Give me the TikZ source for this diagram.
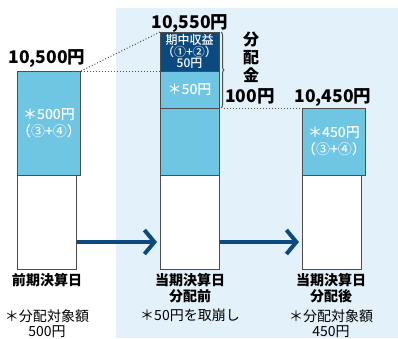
\documentclass[tikz,border=0pt]{standalone}
\usepackage{fontspec}
\setmainfont{Noto Sans CJK JP}
\newfontfamily\jpmedium{Noto Sans CJK JP Medium}
\usetikzlibrary{positioning,arrows.meta,decorations.pathreplacing}

\definecolor{bgblue}{HTML}{E3F2FA}
\definecolor{barblue}{HTML}{6EC6E3}
\definecolor{darkblue}{HTML}{0B4A80}
\definecolor{barline}{HTML}{4D4D4D}

\begin{document}
\begin{tikzpicture}[x=1pt,y=-1pt,
    bar/.style={draw=barline, line width=1pt, inner sep=0pt, outer sep=0pt,
      minimum width=59pt, anchor=north west, text=white, align=center,
      font=\jpmedium\fontsize{14}{17}\selectfont},
    amount/.style={font=\bfseries\fontsize{17.5}{17}\selectfont, inner sep=0pt, anchor=base},
    daylabel/.style={font=\bfseries\fontsize{14}{16}\selectfont, inner sep=0pt, anchor=north, align=center},
    notelabel/.style={font=\fontsize{14}{15}\selectfont, inner sep=0pt, anchor=north, align=center},
    dotline/.style={draw=barline, line width=1pt, dotted},
    flow/.style={draw=darkblue, line width=4pt, -{Straight Barb[length=10pt,width=24pt]}}]

  \useasboundingbox (0,0) rectangle (398,338);
  \fill[bgblue] (116,8) rectangle (398,338);

  % bars
  \node[bar, fill=barblue, minimum height=104pt] (leftblue)  at (17,71)  {＊500円\\（③+④）};
  \node[bar, fill=white,   minimum height=94pt]  (leftwhite) at (17,175) {};

  \node[bar, fill=darkblue, minimum height=39pt, font=\jpmedium\fontsize{12}{11}\selectfont]
    (midincome) at (160,32) {期中収益\\（①+②）\\50円};
  \node[bar, fill=barblue, minimum height=37pt] (midfifty) at (160,71)  {＊50円};
  \node[bar, fill=barblue, minimum height=67pt] (midblue)  at (160,108) {};
  \node[bar, fill=white,   minimum height=94pt] (midwhite) at (160,175) {};

  \node[bar, fill=barblue, minimum height=67pt] (rightblue)  at (302,108) {＊450円\\（③+④）};
  \node[bar, fill=white,   minimum height=94pt] (rightwhite) at (302,175) {};

  % amounts
  \node[amount] (leftsum)  at (47,63)  {10,500円};
  \node[amount] (midsum)   at (190,28) {10,550円};
  \node[amount] (rightsum) at (333,102) {10,450円};
  \node[amount] (payout)   at (250,102) {100円};
  \node[font=\bfseries\fontsize{16}{18}\selectfont, inner sep=0pt, anchor=north, align=center]
    (payname) at (251,32) {分\\配\\金};

  % guide lines
  \draw[dotline] (leftblue.north east) -- (midincome.north west);
  \draw[dotline] (leftblue.north east) -- (midfifty.north west);
  \draw[barline, line width=1pt, decorate, decoration={brace, amplitude=3pt}]
    ([xshift=2pt]midincome.north east) -- ([xshift=2pt]midblue.north east);
  \draw[dotline] ([xshift=5pt]midblue.north east) -- (rightblue.north west);

  % arrows
  \draw[flow, shorten <=1pt, shorten >=3pt] ([yshift=-20pt]leftwhite.east) -- ([yshift=-20pt]midwhite.west);
  \draw[flow, shorten <=1pt, shorten >=3pt] ([yshift=-20pt]midwhite.east) -- ([yshift=-20pt]rightwhite.west);

  % labels
  \node[daylabel]  (prevday)  at (47,273)  {前期決算日};
  \node[notelabel] (prevnote) at (47,309)  {＊分配対象額\\500円};
  \node[daylabel]  (midday)   at (190,273) {当期決算日\\分配前};
  \node[notelabel] (midnote)  at (190,309) {＊50円を取崩し};
  \node[daylabel]  (rightday)  at (331,273) {当期決算日\\分配後};
  \node[notelabel] (rightnote) at (331,309) {＊分配対象額\\450円};

\end{tikzpicture}
\end{document}
